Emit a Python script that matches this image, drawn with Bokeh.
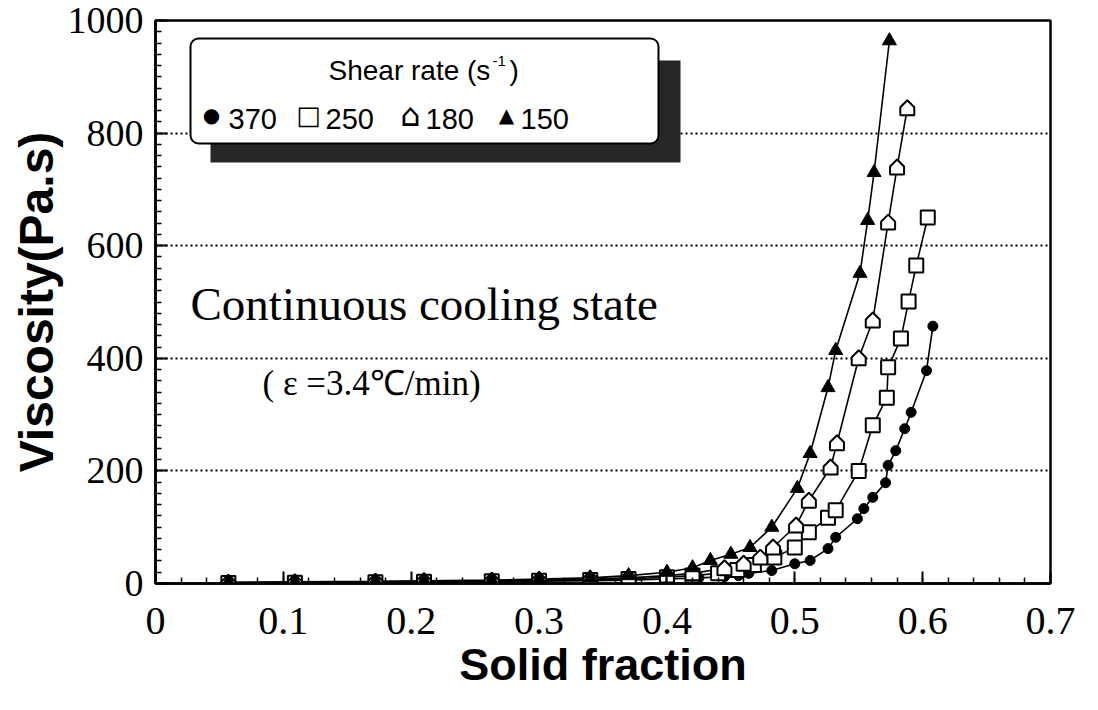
from bokeh.plotting import figure
from bokeh.models import Range1d, SingleIntervalTicker, FixedTicker, BoxAnnotation, Label
from bokeh.embed import file_html
from bokeh.resources import INLINE

# ---------------- data ----------------
sf_370 = [0.057, 0.109, 0.172, 0.210, 0.263, 0.300, 0.340, 0.370, 0.400, 0.425, 0.445,
          0.456, 0.464, 0.482, 0.500, 0.512, 0.526, 0.532, 0.549, 0.554, 0.561, 0.571,
          0.573, 0.579, 0.586, 0.591, 0.603, 0.608]
visc_370 = [0.5, 1, 1.5, 2, 3, 4, 5, 6, 8, 10, 12,
            14, 18, 23, 35, 41, 62, 82, 115, 133, 153, 179,
            210, 236, 275, 304, 378, 457]

sf_250 = [0.057, 0.109, 0.172, 0.210, 0.263, 0.300, 0.340, 0.370, 0.400, 0.420, 0.440,
          0.455, 0.468, 0.484, 0.500, 0.511, 0.526, 0.532, 0.550, 0.561, 0.572, 0.573,
          0.583, 0.589, 0.595, 0.604]
visc_250 = [1, 1.5, 2, 3, 4, 5, 6, 8, 11, 14, 18,
            24, 33, 46, 64, 91, 117, 130, 200, 281, 330, 384,
            435, 501, 565, 650]

sf_180 = [0.057, 0.109, 0.172, 0.210, 0.263, 0.300, 0.340, 0.370, 0.400, 0.420, 0.445,
          0.460, 0.473, 0.483, 0.501, 0.511, 0.528, 0.533, 0.550, 0.561, 0.573, 0.580, 0.588]
visc_180 = [1.5, 2, 3, 4, 5, 6, 8, 10, 14, 18, 27,
            35, 46, 64, 103, 147, 206, 249, 400, 467, 641, 739, 844]

sf_150 = [0.057, 0.109, 0.172, 0.210, 0.263, 0.300, 0.340, 0.370, 0.400, 0.420, 0.434,
          0.450, 0.465, 0.482, 0.502, 0.512, 0.526, 0.532, 0.551, 0.557, 0.562, 0.574]
visc_150 = [2, 3, 4, 5, 6, 8, 10, 14, 20, 28, 41,
            52, 64, 100, 169, 231, 348, 414, 551, 645, 730, 964]

x_ticks = [0, 0.1, 0.2, 0.3, 0.4, 0.5, 0.6, 0.7]
x_tick_labels = ["0", "0.1", "0.2", "0.3", "0.4", "0.5", "0.6", "0.7"]

legend_title = "Shear rate (s"
legend_sup = "-1"
legend_rates = ["370", "250", "180", "150"]
legend_symbols = ["\u25CF", "\u25A1", "\u2302", "\u25B2"]
annot_main = "Continuous cooling state"
annot_sub = "( \u03B5 =3.4\u2103/min)"

# ---------------- layout ----------------
W, H = 1098, 710
L, R, T, B = 155, 48, 20, 127
X0, X1, Y0, Y1 = 0.0, 0.7, 0.0, 1000.0
FW = W - L - R
FH = H - T - B
UX = (X1 - X0) / FW
UY = (Y1 - Y0) / FH


def px2x(px):
    return X0 + (px - L) * UX


def py2y(py):
    return Y0 + (H - B - py) * UY


p = figure(width=W, height=H, output_backend="svg", toolbar_location=None,
           x_range=Range1d(X0, X1), y_range=Range1d(Y0, Y1),
           min_border_left=L, min_border_right=R, min_border_top=T, min_border_bottom=B,
           background_fill_color="white", border_fill_color="white")

p.outline_line_color = "black"
p.outline_line_width = 2.5
p.outline_line_alpha = 1.0

minor_x = [round(k * 0.02, 2) for k in range(0, 36)]
p.xaxis.ticker = FixedTicker(ticks=x_ticks, minor_ticks=minor_x)
p.xaxis.major_label_overrides = dict(zip(x_ticks, x_tick_labels))
p.yaxis.ticker = SingleIntervalTicker(interval=200, num_minor_ticks=10)

for ax in (p.xaxis[0], p.yaxis[0]):
    ax.axis_line_color = "black"
    ax.axis_line_width = 2.5
    ax.major_tick_in = 12
    ax.major_tick_out = 0
    ax.minor_tick_in = 6
    ax.minor_tick_out = 0
    ax.major_tick_line_color = "black"
    ax.minor_tick_line_color = "black"
    ax.major_tick_line_width = 2
    ax.minor_tick_line_width = 1.5
    ax.major_label_text_font = "Liberation Serif"
    ax.major_label_text_color = "black"
    ax.axis_label_text_font = "Liberation Sans"
    ax.axis_label_text_font_style = "bold"
    ax.axis_label_text_color = "black"

p.xaxis.major_label_text_font_size = "40px"
p.yaxis.major_label_text_font_size = "38px"
p.xaxis.axis_label_text_font_size = "45px"
p.yaxis.axis_label_text_font_size = "48px"
p.xaxis.axis_label = "Solid fraction"
p.yaxis.axis_label = "Viscosity(Pa.s)"
p.xaxis.major_label_standoff = 24
p.yaxis.major_label_standoff = 12
p.xaxis.axis_label_standoff = 2
p.yaxis.axis_label_standoff = 2

p.xgrid.visible = False
p.ygrid.grid_line_color = "black"
p.ygrid.grid_line_dash = "2 3"
p.ygrid.grid_line_width = 2

# ---------------- series ----------------
for xs_, ys_ in ((sf_370, visc_370), (sf_250, visc_250), (sf_180, visc_180), (sf_150, visc_150)):
    p.line(xs_, ys_, line_color="black", line_width=1.6)

p.scatter(sf_370, visc_370, marker="circle", size=10, fill_color="black", line_color="black")
p.scatter(sf_250, visc_250, marker="square", size=14, fill_color="white", line_color="black", line_width=2)
house = [(-7, -7), (7, -7), (7, 1), (0, 8), (-7, 1)]
hx = [[x + dx * UX for dx, dy in house] for x in sf_180]
hy = [[y + dy * UY for dx, dy in house] for y in visc_180]
p.patches(hx, hy, fill_color="white", line_color="black", line_width=2)
p.scatter(sf_150, visc_150, marker="triangle", size=14, fill_color="black", line_color="black")

# ---------------- legend box ----------------
p.add_layout(BoxAnnotation(left=px2x(210), right=px2x(680), top=py2y(60), bottom=py2y(162),
                           fill_color="#262626", fill_alpha=1.0, line_alpha=0))
p.add_layout(BoxAnnotation(left=px2x(190), right=px2x(658), top=py2y(38), bottom=py2y(143),
                           fill_color="white", fill_alpha=1.0, line_color="black",
                           line_alpha=1.0, line_width=2, border_radius=8))


def lab(px, py, text, size, font="Liberation Sans", align="left", baseline="alphabetic"):
    p.add_layout(Label(x=px2x(px), y=py2y(py), text=text, text_font=font, text_font_size=size,
                       text_color="black", text_baseline=baseline, text_align=align))


lab(328, 70, legend_title, "28px")
lab(492, 60, legend_sup, "15px")
lab(509, 70, ")", "28px")

sym_px = [211, 308, 410, 506]
sym_sz = ["20px", "26px", "32px", "20px"]
num_px = [228, 325, 425, 520]
for s, sx, sz, n, nx in zip(legend_symbols, sym_px, sym_sz, legend_rates, num_px):
    lab(sx, 114, s, sz, font="DejaVu Sans", align="center", baseline="middle")
    lab(nx, 118, n, "29px")

# ---------------- annotations ----------------
lab(190, 303, annot_main, "47px", font="Liberation Serif")
lab(262, 383, annot_sub, "35px", font="Liberation Serif")

open("out.html", "w").write(file_html(p, INLINE))
